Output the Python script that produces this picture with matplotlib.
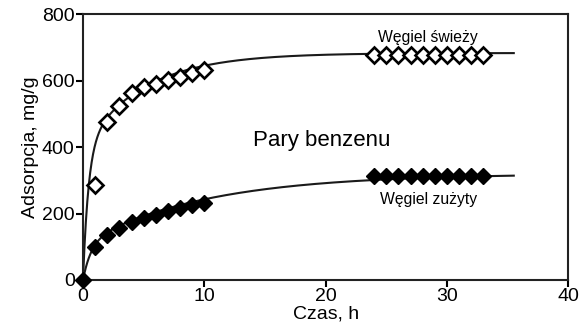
import numpy as np
import matplotlib
matplotlib.use("Agg")
import matplotlib.pyplot as plt

plt.rcParams['font.family'] = ['Liberation Sans', 'DejaVu Sans']

# measured data
t_fresh = [1, 2, 3, 4, 5, 6, 7, 8, 9, 10, 24, 25, 26, 27, 28, 29, 30, 31, 32, 33]
q_fresh = [285, 475, 525, 563, 581, 591, 601, 611, 623, 631,
           678, 678, 678, 678, 678, 678, 678, 678, 678, 678]
t_used = [0, 1, 2, 3, 4, 5, 6, 7, 8, 9, 10, 24, 25, 26, 27, 28, 29, 30, 31, 32, 33]
q_used = [0, 100, 136, 156, 173, 186, 196, 208, 216, 227, 232,
          312, 312, 312, 312, 312, 312, 312, 312, 312, 312]

# fitted kinetic curves (double exponential): A1, k1, A2, k2
fit_fresh = (400, 2.2, 283, 0.2)
fit_used = (110, 1.5, 210, 0.1)
t_end = 35.5

x_ticks = [0, 10, 20, 30, 40]
y_ticks = [0, 200, 400, 600, 800]


def model(t, p):
    a1, k1, a2, k2 = p
    return a1 * (1 - np.exp(-k1 * t)) + a2 * (1 - np.exp(-k2 * t))


fig = plt.figure(figsize=(5.82, 3.29), dpi=100)
ax = fig.add_axes([0.1426, 0.149, 0.834, 0.808])

tt = np.linspace(0, t_end, 600)
ax.plot(tt, model(tt, fit_fresh), color='#1a1a1a', lw=1.5, zorder=2)
ax.plot(tt, model(tt, fit_used), color='#1a1a1a', lw=1.5, zorder=2)

ax.plot(t_fresh, q_fresh, ls='none', marker='D', ms=8.3, mfc='white',
        mec='black', mew=1.9, zorder=3, clip_on=False)
ax.plot(t_used, q_used, ls='none', marker='D', ms=8.5, mfc='black',
        mec='black', mew=1, zorder=3, clip_on=False)

ax.set_xlim(0, 40)
ax.set_ylim(0, 800)
ax.set_xticks(x_ticks)
ax.set_yticks(y_ticks)
ax.tick_params(direction='out', length=5, width=1.5, labelsize=14, pad=1,
               colors='black')
for s in ax.spines.values():
    s.set_linewidth(1.5)
    s.set_color('#222222')

ax.set_xlabel('Czas, h', fontsize=14, labelpad=0)
ax.set_ylabel('Adsorpcja, mg/g', fontsize=14, labelpad=2)

ax.text(14.0, 420, 'Pary benzenu', fontsize=16, ha='left', va='center')
ax.text(24.3, 729, 'Węgiel świeży', fontsize=11.3, ha='left', va='center')
ax.text(24.5, 243, 'Węgiel zużyty', fontsize=11.3, ha='left', va='center')

fig.savefig('out.png', dpi=100)
